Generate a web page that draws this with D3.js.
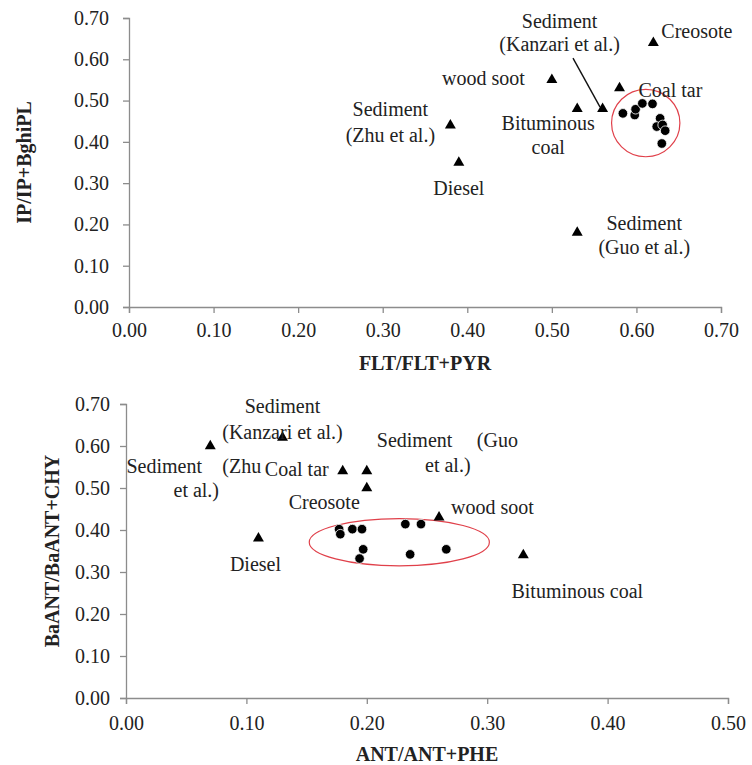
<!DOCTYPE html>
<html>
<head>
<meta charset="utf-8">
<script src="https://cdn.jsdelivr.net/npm/d3@7"></script>
<style>
  body { margin: 0; background: #fff; }
  svg text { font-family: "Liberation Serif", "DejaVu Serif", serif !important; fill: #222; }
  .axis path, .axis line { stroke: #8c8c8c; stroke-width: 1.3; }
  .axis text { font-size: 20px; fill: #222; }
  .title { font-size: 20px; font-weight: bold; }
  .lbl { font-size: 20px; }
</style>
</head>
<body>
<div id="chart"></div>
<script>
// ---- top panel: FLT/FLT+PYR vs IP/IP+BghiPL ----
var topSources = ['Creosote', 'Sediment (Kanzari)', 'wood soot', 'Coal tar', 'Bituminous coal', 'Sediment (Zhu)', 'Diesel', 'Sediment (Guo)'];
var topSourceX = [0.62, 0.56, 0.50, 0.58, 0.53, 0.38, 0.39, 0.53];
var topSourceY = [0.64, 0.48, 0.55, 0.53, 0.48, 0.44, 0.35, 0.18];
var topSampleX = [0.584, 0.598, 0.599, 0.607, 0.619, 0.628, 0.624, 0.631, 0.634, 0.630];
var topSampleY = [0.469, 0.465, 0.479, 0.493, 0.492, 0.457, 0.437, 0.441, 0.427, 0.396];

// ---- bottom panel: ANT/ANT+PHE vs BaANT/BaANT+CHY ----
var botSources = ['Sediment (Zhu)', 'Sediment (Kanzari)', 'Coal tar', 'Sediment (Guo)', 'Creosote', 'wood soot', 'Diesel', 'Bituminous coal'];
var botSourceX = [0.07, 0.13, 0.18, 0.20, 0.20, 0.26, 0.11, 0.33];
var botSourceY = [0.60, 0.62, 0.54, 0.54, 0.50, 0.43, 0.38, 0.34];
var botSampleX = [0.177, 0.178, 0.188, 0.196, 0.232, 0.245, 0.197, 0.194, 0.236, 0.266];
var botSampleY = [0.402, 0.390, 0.402, 0.402, 0.414, 0.414, 0.354, 0.332, 0.342, 0.354];

var topTicksX = [0, 0.1, 0.2, 0.3, 0.4, 0.5, 0.6, 0.7];
var topTicksY = [0, 0.1, 0.2, 0.3, 0.4, 0.5, 0.6, 0.7];
var botTicksX = [0, 0.1, 0.2, 0.3, 0.4, 0.5];
var botTicksY = [0, 0.1, 0.2, 0.3, 0.4, 0.5, 0.6, 0.7];

// label placement (pixel offsets from the marker)
var topLabels = [
  [{t: 'Creosote', dx: 8, dy: -12, a: 'start'}],
  [{t: 'Sediment', dx: -43, dy: -88, a: 'middle'}, {t: '(Kanzari et al.)', dx: -43, dy: -65, a: 'middle'}],
  [{t: 'wood soot', dx: -27, dy: -2, a: 'end'}],
  [{t: 'Coal tar', dx: 19, dy: 2, a: 'start'}],
  [{t: 'Bituminous', dx: -29, dy: 14, a: 'middle'}, {t: 'coal', dx: -29, dy: 38, a: 'middle'}],
  [{t: 'Sediment', dx: -60, dy: -16, a: 'middle'}, {t: '(Zhu et al.)', dx: -60, dy: 10, a: 'middle'}],
  [{t: 'Diesel', dx: 0, dy: 25, a: 'middle'}],
  [{t: 'Sediment', dx: 67, dy: -10, a: 'middle'}, {t: '(Guo et al.)', dx: 67, dy: 14, a: 'middle'}]
];
var botLabels = [
  [{t: 'Sediment', dx: -46, dy: 20, a: 'middle'}, {t: '(Zhu', dx: 12, dy: 20, a: 'start'}, {t: 'et al.)', dx: -14, dy: 44, a: 'middle'}],
  [{t: 'Sediment', dx: 0, dy: -32, a: 'middle'}, {t: '(Kanzari et al.)', dx: 0, dy: -6, a: 'middle'}],
  [{t: 'Coal tar', dx: -14, dy: -2, a: 'end'}],
  [{t: 'Sediment', dx: 10, dy: -31, a: 'start'}, {t: '(Guo', dx: 110, dy: -31, a: 'start'}, {t: 'et al.)', dx: 81, dy: -6, a: 'middle'}],
  [{t: 'Creosote', dx: -7, dy: 14, a: 'end'}],
  [{t: 'wood soot', dx: 12, dy: -10, a: 'start'}],
  [{t: 'Diesel', dx: -3, dy: 26, a: 'middle'}],
  [{t: 'Bituminous coal', dx: 54, dy: 36, a: 'middle'}]
];

var svg = d3.select('#chart').append('svg')
  .attr('width', 752)
  .attr('height', 765)
  .attr('font-family', '"Liberation Serif", serif');

var tri = d3.symbol().type(d3.symbolTriangle).size(52);

function drawPanel(opt) {
  var x = d3.scaleLinear().domain([0, opt.xMax]).range(opt.xRange);
  var y = d3.scaleLinear().domain([0, 0.7]).range(opt.yRange);
  var g = svg.append('g');

  g.append('g').attr('class', 'axis')
    .attr('transform', 'translate(0,' + opt.yRange[0] + ')')
    .call(d3.axisBottom(x).tickValues(opt.ticksX).tickFormat(d3.format('.2f')).tickSize(6).tickPadding(opt.padX))
    .attr('font-family', null).attr('font-size', null)
    .selectAll('text').attr('dy', '0.71em');

  g.append('g').attr('class', 'axis')
    .attr('transform', 'translate(' + opt.xRange[0] + ',0)')
    .call(d3.axisLeft(y).tickValues(opt.ticksY).tickFormat(d3.format('.2f')).tickSize(6).tickPadding(opt.padY))
    .attr('font-family', null).attr('font-size', null);

  g.append('text').attr('class', 'title')
    .attr('x', (opt.xRange[0] + opt.xRange[1]) / 2)
    .attr('y', opt.xTitleY)
    .attr('text-anchor', 'middle')
    .attr('dominant-baseline', 'central')
    .text(opt.xTitle);

  g.append('text').attr('class', 'title')
    .attr('transform', 'translate(' + opt.yTitleX + ',' + (opt.yRange[0] + opt.yRange[1]) / 2 + ') rotate(-90)')
    .attr('text-anchor', 'middle')
    .attr('dominant-baseline', 'central')
    .text(opt.yTitle);

  // red ring around the samples
  g.append('ellipse')
    .attr('cx', x(opt.ring[0])).attr('cy', y(opt.ring[1]))
    .attr('rx', x(opt.ring[2]) - x(0)).attr('ry', y(0) - y(opt.ring[3]))
    .attr('fill', 'none').attr('stroke', '#e0404a').attr('stroke-width', 1.2);

  if (opt.leader) {
    g.append('line')
      .attr('x1', x(opt.leader[0])).attr('y1', y(opt.leader[1]))
      .attr('x2', x(opt.leader[2])).attr('y2', y(opt.leader[3]))
      .attr('stroke', '#111').attr('stroke-width', 1.4);
  }

  g.selectAll('path.src')
    .data(opt.srcX)
    .enter().append('path')
    .attr('class', 'src')
    .attr('d', tri)
    .attr('fill', '#000')
    .attr('transform', function(d, i) { return 'translate(' + x(d) + ',' + y(opt.srcY[i]) + ')'; });

  g.selectAll('circle.smp')
    .data(opt.smpX)
    .enter().append('circle')
    .attr('class', 'smp')
    .attr('cx', function(d) { return x(d); })
    .attr('cy', function(d, i) { return y(opt.smpY[i]); })
    .attr('r', 4.8)
    .attr('fill', '#000')
    .attr('stroke', '#fff')
    .attr('stroke-width', 0.8);

  opt.labels.forEach(function(lines, i) {
    var px = x(opt.srcX[i]), py = y(opt.srcY[i]);
    lines.forEach(function(l) {
      g.append('text').attr('class', 'lbl')
        .attr('x', px + l.dx)
        .attr('y', py + l.dy)
        .attr('text-anchor', l.a)
        .attr('dominant-baseline', 'central')
        .text(l.t);
    });
  });
}

drawPanel({
  xMax: 0.7, xRange: [129, 721], yRange: [307, 18],
  ticksX: topTicksX, ticksY: topTicksY, padX: 10, padY: 14,
  xTitle: 'FLT/FLT+PYR', yTitle: 'IP/IP+BghiPL', xTitleY: 363, yTitleX: 24,
  ring: [0.611, 0.4455, 0.0404, 0.0816],
  leader: [0.525, 0.603, 0.557, 0.484],
  srcX: topSourceX, srcY: topSourceY, smpX: topSampleX, smpY: topSampleY,
  labels: topLabels
});

drawPanel({
  xMax: 0.5, xRange: [126, 728], yRange: [698, 404],
  ticksX: botTicksX, ticksY: botTicksY, padX: 12, padY: 10,
  xTitle: 'ANT/ANT+PHE', yTitle: 'BaANT/BaANT+CHY', xTitleY: 754, yTitleX: 52,
  ring: [0.227, 0.371, 0.0748, 0.0562],
  leader: null,
  srcX: botSourceX, srcY: botSourceY, smpX: botSampleX, smpY: botSampleY,
  labels: botLabels
});
</script>
</body>
</html>
